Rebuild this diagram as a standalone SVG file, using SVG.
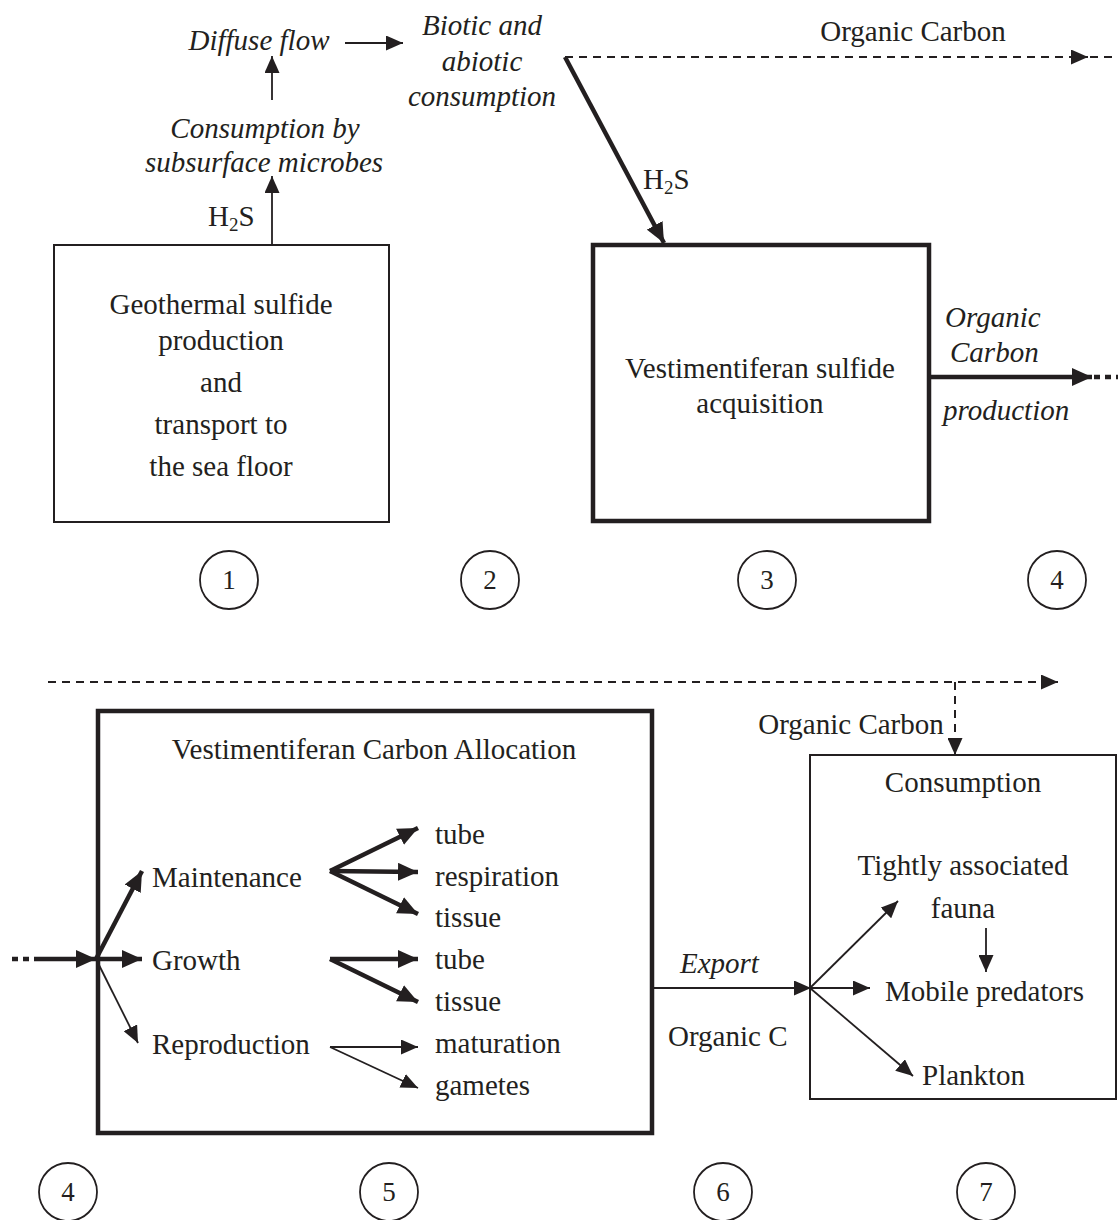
<svg xmlns="http://www.w3.org/2000/svg" width="1120" height="1220" viewBox="0 0 1120 1220">
<defs>
<style>
text{font-family:"Liberation Serif","Times New Roman",serif;font-size:29px;fill:#231f20}
.it{font-style:italic}
.m{text-anchor:middle}
.num{font-size:27px}
.box{fill:none;stroke:#231f20;stroke-width:2}
.bold{stroke-width:4.5}
.thin{stroke:#231f20;stroke-width:1.8;fill:none}
.thick{stroke:#231f20;stroke-width:4.5;fill:none}
.dash{stroke:#231f20;stroke-width:2;fill:none;stroke-dasharray:8 6}
.circ{fill:#fff;stroke:#231f20;stroke-width:1.8}
</style>
<marker id="ah" markerUnits="userSpaceOnUse" markerWidth="21" markerHeight="18" viewBox="0 0 21 18" refX="20" refY="9" orient="auto"><path d="M0,0 L20,9 L0,18 Z" fill="#231f20"/></marker>
<marker id="ahs" markerUnits="userSpaceOnUse" markerWidth="18" markerHeight="15" viewBox="0 0 18 15" refX="17" refY="7.5" orient="auto"><path d="M0,0 L17,7.5 L0,15 Z" fill="#231f20"/></marker>
</defs>
<rect width="1120" height="1220" fill="#fff"/>

<g id="connectors">
<line class="thin" x1="272" y1="245" x2="272" y2="176" marker-end="url(#ahs)"/>
<line class="thin" x1="272" y1="100" x2="272" y2="56" marker-end="url(#ahs)"/>
<line class="thin" x1="345" y1="43" x2="403" y2="43" marker-end="url(#ahs)"/>
<line class="dash" x1="565" y1="57" x2="1088" y2="57" marker-end="url(#ahs)"/>
<line class="dash" x1="1090" y1="57" x2="1118" y2="57"/>
<line class="thick" x1="565" y1="57" x2="664" y2="243" marker-end="url(#ah)"/>
<line class="thick" x1="931" y1="377" x2="1092" y2="377" marker-end="url(#ah)"/>
<line class="thick" x1="1094" y1="377" x2="1118" y2="377" stroke-dasharray="6 5"/>

<line class="dash" x1="48" y1="682" x2="1058" y2="682" marker-end="url(#ahs)"/>
<line class="dash" x1="955" y1="682" x2="955" y2="755" marker-end="url(#ahs)"/>

<line class="thick" x1="12" y1="959" x2="38" y2="959" stroke-dasharray="6 5"/>
<line class="thick" x1="38" y1="959" x2="96" y2="959" marker-end="url(#ah)"/>
<line class="thick" x1="96" y1="959" x2="142" y2="871" marker-end="url(#ah)"/>
<line class="thick" x1="96" y1="959" x2="142" y2="959" marker-end="url(#ah)"/>
<line class="thin" x1="96" y1="959" x2="138" y2="1043" marker-end="url(#ahs)"/>

<line class="thick" x1="330" y1="871" x2="418" y2="828" marker-end="url(#ah)"/>
<line class="thick" x1="330" y1="871" x2="418" y2="872" marker-end="url(#ah)"/>
<line class="thick" x1="330" y1="871" x2="418" y2="914" marker-end="url(#ah)"/>
<line class="thick" x1="330" y1="959" x2="418" y2="959" marker-end="url(#ah)"/>
<line class="thick" x1="330" y1="959" x2="418" y2="1002" marker-end="url(#ah)"/>
<line class="thin" x1="330" y1="1047" x2="418" y2="1047" marker-end="url(#ahs)"/>
<line class="thin" x1="330" y1="1047" x2="418" y2="1088" marker-end="url(#ahs)"/>

<line class="thin" x1="652" y1="988" x2="811" y2="988" marker-end="url(#ahs)"/>
<line class="thin" x1="810" y1="988" x2="898" y2="901" marker-end="url(#ahs)"/>
<line class="thin" x1="810" y1="988" x2="870" y2="988" marker-end="url(#ahs)"/>
<line class="thin" x1="810" y1="988" x2="913" y2="1076" marker-end="url(#ahs)"/>
<line class="thin" x1="986" y1="928" x2="986" y2="972" marker-end="url(#ahs)"/>
</g>

<g id="labels">
<text class="it m" x="259" y="50">Diffuse flow</text>
<text class="it m" x="265" y="138">Consumption by</text>
<text class="it m" x="264" y="172">subsurface microbes</text>
<text x="208" y="226">H<tspan font-size="19" dy="5">2</tspan><tspan dy="-5">S</tspan></text>
<text class="it m" x="482" y="35">Biotic and</text>
<text class="it m" x="482" y="71">abiotic</text>
<text class="it m" x="482" y="106">consumption</text>
<text class="m" x="913" y="41">Organic Carbon</text>
<text x="643" y="189">H<tspan font-size="19" dy="5">2</tspan><tspan dy="-5">S</tspan></text>
<text class="it" x="945" y="327">Organic</text>
<text class="it" x="950" y="362">Carbon</text>
<text class="it" x="943" y="420">production</text>
<text class="m" x="851" y="734">Organic Carbon</text>
<text class="it" x="680" y="973">Export</text>
<text x="668" y="1046">Organic C</text>
</g>

<g id="node1">
<rect class="box" x="54" y="245" width="335" height="277"/>
<text class="m" x="221" y="314">Geothermal sulfide</text>
<text class="m" x="221" y="350">production</text>
<text class="m" x="221" y="392">and</text>
<text class="m" x="221" y="434">transport to</text>
<text class="m" x="221" y="476">the sea floor</text>
</g>

<g id="node3">
<rect class="box bold" x="593" y="245" width="336" height="276"/>
<text class="m" x="760" y="378">Vestimentiferan sulfide</text>
<text class="m" x="760" y="413">acquisition</text>
</g>

<g id="node5">
<rect class="box bold" x="98" y="711" width="554" height="422"/>
<text class="m" x="374" y="759">Vestimentiferan Carbon Allocation</text>
<text x="152" y="887">Maintenance</text>
<text x="152" y="970">Growth</text>
<text x="152" y="1054">Reproduction</text>
<text x="435" y="844">tube</text>
<text x="435" y="886">respiration</text>
<text x="435" y="927">tissue</text>
<text x="435" y="969">tube</text>
<text x="435" y="1011">tissue</text>
<text x="435" y="1053">maturation</text>
<text x="435" y="1095">gametes</text>
</g>

<g id="node7">
<rect class="box" x="810" y="755" width="306" height="344"/>
<text class="m" x="963" y="792">Consumption</text>
<text class="m" x="963" y="875">Tightly associated</text>
<text class="m" x="963" y="918">fauna</text>
<text x="885" y="1001">Mobile predators</text>
<text x="922" y="1085">Plankton</text>
</g>

<g id="step1"><circle class="circ" cx="229" cy="580" r="29"/><text class="m num" x="229" y="589">1</text></g>
<g id="step2"><circle class="circ" cx="490" cy="580" r="29"/><text class="m num" x="490" y="589">2</text></g>
<g id="step3"><circle class="circ" cx="767" cy="580" r="29"/><text class="m num" x="767" y="589">3</text></g>
<g id="step4a"><circle class="circ" cx="1057" cy="580" r="29"/><text class="m num" x="1057" y="589">4</text></g>
<g id="step4b"><circle class="circ" cx="68" cy="1192" r="29"/><text class="m num" x="68" y="1201">4</text></g>
<g id="step5"><circle class="circ" cx="389" cy="1192" r="29"/><text class="m num" x="389" y="1201">5</text></g>
<g id="step6"><circle class="circ" cx="723" cy="1192" r="29"/><text class="m num" x="723" y="1201">6</text></g>
<g id="step7"><circle class="circ" cx="986" cy="1192" r="29"/><text class="m num" x="986" y="1201">7</text></g>
</svg>
